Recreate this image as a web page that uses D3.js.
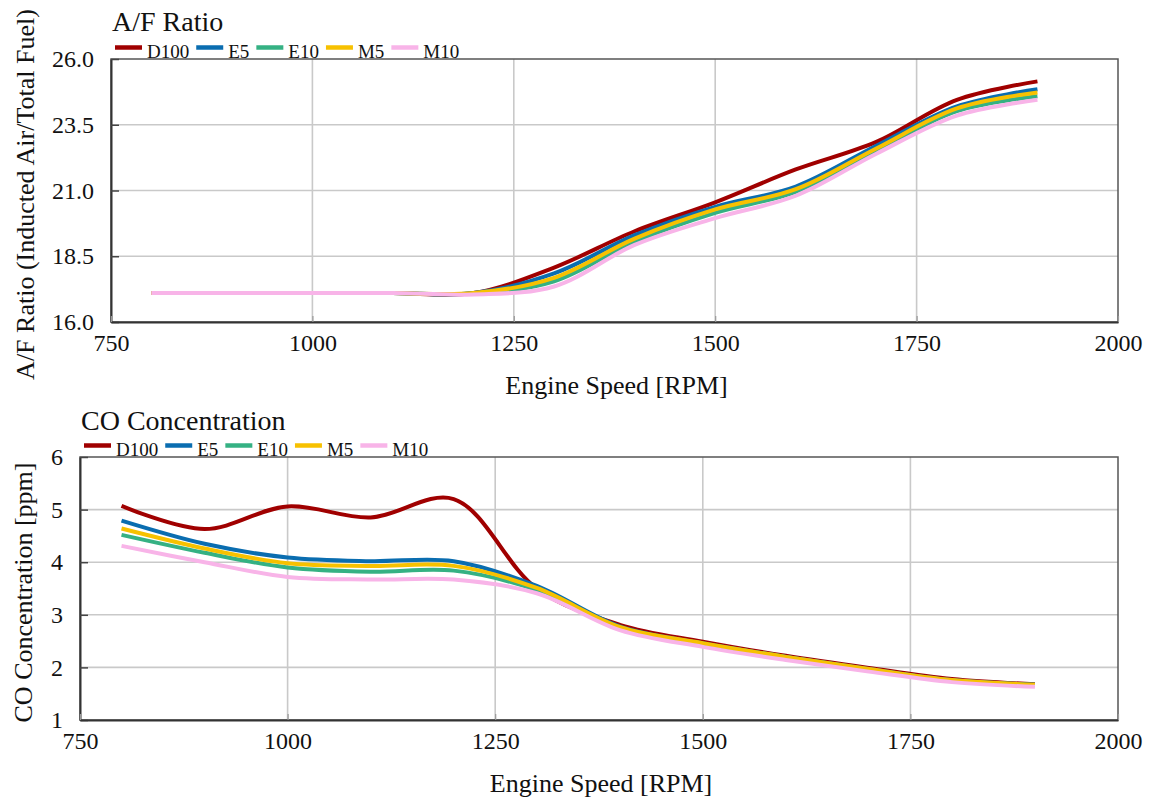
<!DOCTYPE html>
<html>
<head>
<meta charset="utf-8">
<script src="https://cdn.jsdelivr.net/npm/d3@7/dist/d3.min.js"></script>
<style>
  html, body { margin: 0; padding: 0; background: #fff; }
  svg text { font-family: "Liberation Serif", "Times New Roman", serif !important; }
</style>
</head>
<body>
<svg id="chart" width="1155" height="801"></svg>
<script>
// ---------- data ----------
const rpm = [800, 900, 1000, 1100, 1200, 1300, 1400, 1500, 1600, 1700, 1800, 1900];
const seriesNames = ["D100", "E5", "E10", "M5", "M10"];
const seriesColors = ["#a00000", "#0a6db0", "#35b183", "#f7c100", "#f8b4e8"];

const afD100 = [17.1, 17.1, 17.1, 17.1, 17.1, 18.07, 19.45, 20.55, 21.8, 22.85, 24.45, 25.15];
const afE5   = [17.1, 17.1, 17.1, 17.1, 17.1, 17.85, 19.3, 20.38, 21.15, 22.7, 24.2, 24.85];
const afE10  = [17.1, 17.1, 17.1, 17.1, 17.08, 17.55, 19.05, 20.15, 20.95, 22.52, 24.02, 24.58];
const afM5   = [17.1, 17.1, 17.1, 17.1, 17.1, 17.68, 19.17, 20.28, 21.05, 22.6, 24.12, 24.73];
const afM10  = [17.1, 17.1, 17.1, 17.1, 17.05, 17.35, 18.93, 19.95, 20.8, 22.4, 23.85, 24.45];

const coD100 = [5.07, 4.63, 5.06, 4.85, 5.2, 3.5, 2.81, 2.49, 2.22, 1.99, 1.78, 1.68];
const coE5   = [4.79, 4.35, 4.09, 4.02, 4.02, 3.55, 2.78, 2.46, 2.2, 1.97, 1.76, 1.67];
const coE10  = [4.52, 4.18, 3.9, 3.82, 3.84, 3.47, 2.76, 2.45, 2.2, 1.96, 1.75, 1.67];
const coM5   = [4.64, 4.26, 3.98, 3.93, 3.93, 3.51, 2.77, 2.46, 2.2, 1.97, 1.76, 1.67];
const coM10  = [4.31, 4.0, 3.72, 3.67, 3.67, 3.41, 2.71, 2.39, 2.14, 1.92, 1.72, 1.63];

const xTicks = [750, 1000, 1250, 1500, 1750, 2000];
const afTicks = [16.0, 18.5, 21.0, 23.5, 26.0];
const coTicks = [1, 2, 3, 4, 5, 6];

// ---------- drawing ----------
const svg = d3.select("#chart");
const FONT = "'Liberation Serif', 'Times New Roman', serif";

function drawPanel(cfg) {
  const { left, right, top, bottom, yDomain, yTicks, yFmt, series, title, yTitle, titleY, yTitleX } = cfg;
  const g = svg.append("g");
  const x = d3.scaleLinear().domain([750, 2000]).range([left, right]);
  const y = d3.scaleLinear().domain(yDomain).range([bottom, top]);

  // gridlines
  g.append("g").selectAll("line").data(xTicks.slice(1, -1)).join("line")
    .attr("x1", d => x(d)).attr("x2", d => x(d))
    .attr("y1", top).attr("y2", bottom)
    .attr("stroke", "#c9c9c9").attr("stroke-width", 1.6);
  g.append("g").selectAll("line").data(yTicks.slice(1, -1)).join("line")
    .attr("x1", left).attr("x2", right)
    .attr("y1", d => y(d)).attr("y2", d => y(d))
    .attr("stroke", "#c9c9c9").attr("stroke-width", 1.6);

  // frame
  g.append("rect").attr("x", left).attr("y", top)
    .attr("width", right - left).attr("height", bottom - top)
    .attr("fill", "none").attr("stroke", "#555").attr("stroke-width", 1.5);

  // axes
  const yAxis = d3.axisLeft(y).tickValues(yTicks).tickFormat(d3.format(yFmt))
    .tickSizeInner(-8).tickSizeOuter(0).tickPadding(17);
  const ya = g.append("g").attr("transform", `translate(${left},0)`).call(yAxis)
    .attr("font-family", FONT).attr("font-size", 24);
  ya.select(".domain").attr("stroke", "#333").attr("stroke-width", 2);
  ya.selectAll(".tick line").attr("stroke", "#444").attr("stroke-width", 1.5);
  ya.selectAll("text").style("font-family", FONT).style("font-size", "24px").attr("fill", "#111");

  const xAxis = d3.axisBottom(x).tickValues(xTicks).tickFormat(d3.format("d"))
    .tickSizeInner(-6).tickSizeOuter(0).tickPadding(12);
  const xa = g.append("g").attr("transform", `translate(0,${bottom})`).call(xAxis)
    .attr("font-family", FONT).attr("font-size", 24);
  xa.select(".domain").attr("stroke", "#333").attr("stroke-width", 2);
  xa.selectAll(".tick line").attr("stroke", "#999").attr("stroke-width", 1.2);
  xa.selectAll("text").style("font-family", FONT).style("font-size", "24px").attr("fill", "#111");

  // lines
  const line = d3.line().x((d, i) => x(rpm[i])).y(d => y(d)).curve(d3.curveCatmullRom.alpha(0.5));
  series.forEach((vals, i) => {
    g.append("path").datum(vals).attr("d", line)
      .attr("fill", "none").attr("stroke", seriesColors[i])
      .attr("stroke-width", 4).attr("stroke-linejoin", "round").attr("stroke-linecap", "butt");
  });

  // title
  g.append("text").attr("x", left + 1).attr("y", titleY).text(title)
    .style("font-family", FONT).style("font-size", "28px").attr("fill", "#111");

  // x title
  g.append("text").attr("x", (left + right) / 2 + 2).attr("y", bottom + 72)
    .attr("text-anchor", "middle").style("font-family", FONT).style("font-size", "26px").attr("fill", "#111")
    .text("Engine Speed [RPM]");

  // y title
  g.append("text")
    .attr("transform", `translate(${yTitleX},${(top + bottom) / 2 + 4}) rotate(-90)`)
    .attr("text-anchor", "middle").style("font-family", FONT).style("font-size", "26px").attr("fill", "#111")
    .text(yTitle);

  // legend
  const lg = g.append("g");
  let cx = left + 4;
  seriesNames.forEach((name, i) => {
    lg.append("line").attr("x1", cx).attr("x2", cx + 27)
      .attr("y1", top - 11.5).attr("y2", top - 11.5)
      .attr("stroke", seriesColors[i]).attr("stroke-width", 4.5);
    const t = lg.append("text").attr("x", cx + 32).attr("y", top - 1.5)
      .style("font-family", FONT).style("font-size", "19px").attr("fill", "#111").text(name);
    cx += 32 + t.node().getComputedTextLength() + 7;
  });
}

drawPanel({
  left: 111, right: 1118, top: 59, bottom: 322,
  yDomain: [16, 26], yTicks: afTicks, yFmt: ".1f",
  series: [afD100, afE5, afE10, afM5, afM10],
  title: "A/F Ratio", titleY: 31,
  yTitle: "A/F Ratio (Inducted Air/Total Fuel)", yTitleX: 34
});

drawPanel({
  left: 80, right: 1118, top: 457, bottom: 720,
  yDomain: [1, 6], yTicks: coTicks, yFmt: "d",
  series: [coD100, coE5, coE10, coM5, coM10],
  title: "CO Concentration", titleY: 430,
  yTitle: "CO Concentration [ppm]", yTitleX: 32
});
</script>
</body>
</html>
